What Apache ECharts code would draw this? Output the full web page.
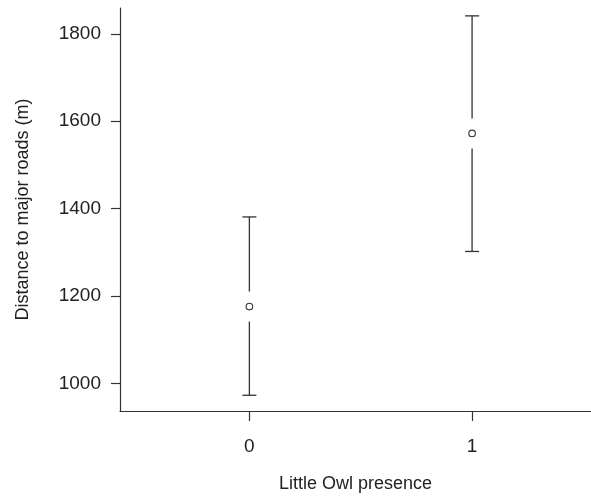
<!DOCTYPE html>
<html>
<head>
<meta charset="utf-8">
<script src="https://cdn.jsdelivr.net/npm/echarts@6/dist/echarts.min.js"></script>
<style>
html,body{margin:0;padding:0;background:#fff;}
#chart{width:591px;height:498px;}
</style>
</head>
<body>
<div id="chart"></div>
<script>
var categories = [0, 1];
var means = [1176, 1572];
var lowers = [973, 1302];
var uppers = [1381, 1841];
var yTicks = [1000, 1200, 1400, 1600, 1800];
var xTicks = [0, 1];

var data = categories.map(function (c, i) { return [c, means[i], lowers[i], uppers[i]]; });

var chart = echarts.init(document.getElementById('chart'), null, { renderer: 'canvas' });
var FONT = 'Liberation Sans, Arial, sans-serif';
var INK = '#222';

chart.setOption({
  animation: false,
  grid: { left: 120, top: 8, bottom: 84, right: 0, containLabel: false },
  xAxis: {
    type: 'value', min: -0.581, max: 1.534,
    name: 'Little Owl presence', nameLocation: 'middle', nameGap: 64,
    nameTextStyle: { fontFamily: FONT, fontSize: 18, color: INK },
    axisLine: { show: true, onZero: false, lineStyle: { color: '#333', width: 1.2 } },
    axisTick: { show: true, length: 10, customValues: xTicks, lineStyle: { color: '#333', width: 1.2 } },
    axisLabel: { customValues: xTicks, margin: 26, fontFamily: FONT, fontSize: 19, color: INK,
      formatter: function (v) { return String(v); } },
    splitLine: { show: false }
  },
  yAxis: {
    type: 'value', min: 937, max: 1859,
    name: 'Distance to major roads (m)', nameLocation: 'middle', nameGap: 88,
    nameTextStyle: { fontFamily: FONT, fontSize: 18, color: INK },
    axisLine: { show: true, onZero: false, lineStyle: { color: '#333', width: 1.2 } },
    axisTick: { show: true, length: 9, customValues: yTicks, lineStyle: { color: '#333', width: 1.2 } },
    axisLabel: { customValues: yTicks, margin: 19, fontFamily: FONT, fontSize: 19, color: INK,
      formatter: function (v) { return String(v); } },
    splitLine: { show: false }
  },
  series: [{
    type: 'custom',
    data: data,
    clip: false,
    renderItem: function (params, api) {
      var x = api.value(0);
      var pm = api.coord([x, api.value(1)]);
      var pl = api.coord([x, api.value(2)]);
      var pu = api.coord([x, api.value(3)]);
      var cap = 7, gap = 15;
      var ls = { stroke: '#333', lineWidth: 1.3, fill: null };
      return {
        type: 'group',
        children: [
          { type: 'line', shape: { x1: pm[0], y1: pu[1], x2: pm[0], y2: pm[1] - gap }, style: ls },
          { type: 'line', shape: { x1: pm[0], y1: pm[1] + gap, x2: pm[0], y2: pl[1] }, style: ls },
          { type: 'line', shape: { x1: pm[0] - cap, y1: pu[1], x2: pm[0] + cap, y2: pu[1] }, style: ls },
          { type: 'line', shape: { x1: pm[0] - cap, y1: pl[1], x2: pm[0] + cap, y2: pl[1] }, style: ls },
          { type: 'circle', shape: { cx: pm[0], cy: pm[1], r: 3.3 }, style: { stroke: '#333', lineWidth: 1.1, fill: '#fff' } }
        ]
      };
    }
  }]
});
</script>
</body>
</html>
